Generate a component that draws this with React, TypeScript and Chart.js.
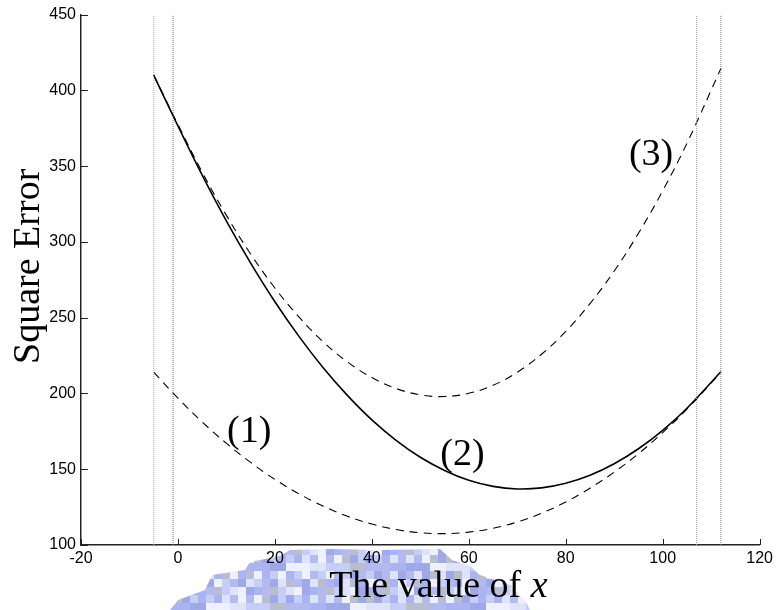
import React, { useEffect, useRef } from "react";
import { Chart, registerables } from "chart.js";

Chart.register(...registerables);

// ---- data ----
const xTicks = [-20, 0, 20, 40, 60, 80, 100, 120];
const yTicks = [100, 150, 200, 250, 300, 350, 400, 450];

const xs = [-5, 0, 5, 10, 15, 20, 25, 30, 35, 40, 45, 50, 55, 60, 65, 70, 75, 80, 85, 90, 95, 100, 105, 112];

// (1) lower dashed curve
const curve1 = [214, 196.9, 181.2, 167.1, 154.5, 143.3, 133.7, 125.6, 118.9, 113.8, 110.2, 108.1, 107.5, 108.5, 111, 115.2, 121, 128.4, 137.5, 148.1, 160.3, 174.2, 189.6, 214];
// (2) solid curve
const curve2 = [410, 376.5, 344, 313.7, 286, 260.5, 237.5, 216.8, 198.6, 182.6, 169.1, 157.9, 149.2, 142.7, 138.7, 137, 137.7, 140.7, 146, 153.6, 163.5, 175.7, 190.2, 214.3];
// (3) upper dashed curve
const curve3 = [410, 377.5, 346, 317.5, 292, 269.6, 250.3, 233.9, 220.7, 210.5, 203.3, 199.1, 198, 200.1, 205.4, 214, 225.9, 240.9, 259.3, 280.8, 305.7, 333.8, 365.1, 414.4];

// vertical dotted guide lines
const guideXs = [-5, -1, 107, 112];

// curve annotations
const curveLabels = ["(1)", "(2)", "(3)"];
const labelXs = [14.7, 58.7, 97.6];
const labelYs = [168, 153, 350.7];

const xTitleMain = "The value of ";
const xTitleVar = "x";
const yTitle = "Square Error";

const X_MIN = -20, X_MAX = 120, Y_MIN = 100, Y_MAX = 450;

const SERIF = '"Liberation Serif", "Times New Roman", serif';
const SANS = '"Liberation Sans", Arial, sans-serif';

// decorative pixelated blob under the x title (offsets from chart-area bottom-left)
const blobShape: [number, number][] = [
  [89, 65], [97, 55], [124, 45], [131, 30], [164, 25], [169, 17], [199, 11], [209, 5],
  [249, 4], [299, 5], [359, 4], [371, 15], [389, 21], [399, 30], [429, 40], [444, 55], [449, 65],
];
const blobPalette = ["#aab4f2", "#c6cdf7", "#a0a9e8", "#b8bdd0", "#eef0fc", "#b3bbee", "#dfe3fa"];

const decor = {
  id: "decor",
  beforeDraw(chart: any) {
    const { ctx, chartArea: ca } = chart;
    ctx.save();
    ctx.beginPath();
    blobShape.forEach(([dx, dy], i) => {
      const px = ca.left + dx, py = ca.bottom + dy;
      if (i === 0) ctx.moveTo(px, py); else ctx.lineTo(px, py);
    });
    ctx.closePath();
    ctx.clip();
    const bs = 8;
    for (let i = 0; i < 64; i++) {
      for (let j = 0; j < 10; j++) {
        const c = blobPalette[(i * 5 + j * 3 + ((i * j) % 5)) % blobPalette.length];
        ctx.fillStyle = c;
        ctx.fillRect(ca.left + 85 + i * bs, ca.bottom + 2 + j * bs, bs, bs);
      }
    }
    ctx.restore();
  },
  afterDraw(chart: any) {
    const { ctx, chartArea: ca, scales } = chart;
    const sx = scales.x, sy = scales.y;
    ctx.save();

    // inward ticks
    ctx.strokeStyle = "#222";
    ctx.lineWidth = 1;
    ctx.beginPath();
    sx.ticks.forEach((t: any) => {
      const px = Math.round(sx.getPixelForValue(t.value)) + 0.5;
      ctx.moveTo(px, ca.bottom);
      ctx.lineTo(px, ca.bottom - 6);
    });
    sy.ticks.forEach((t: any) => {
      const py = Math.round(sy.getPixelForValue(t.value)) + 0.5;
      ctx.moveTo(ca.left, py);
      ctx.lineTo(ca.left + 7, py);
    });
    ctx.stroke();

    // curve labels
    ctx.fillStyle = "#000";
    ctx.font = `38px ${SERIF}`;
    ctx.textAlign = "center";
    ctx.textBaseline = "alphabetic";
    curveLabels.forEach((lab, i) => {
      ctx.fillText(lab, sx.getPixelForValue(labelXs[i]), sy.getPixelForValue(labelYs[i]));
    });

    // y title
    ctx.save();
    ctx.translate(ca.left - 42.5, (ca.top + ca.bottom) / 2 - 13.5);
    ctx.rotate(-Math.PI / 2);
    ctx.textAlign = "center";
    ctx.fillText(yTitle, 0, 0);
    ctx.restore();

    // x title with italic variable
    ctx.textAlign = "left";
    ctx.font = `38px ${SERIF}`;
    const w1 = ctx.measureText(xTitleMain).width;
    ctx.font = `italic 38px ${SERIF}`;
    const w2 = ctx.measureText(xTitleVar).width;
    const cx = (ca.left + ca.right) / 2 + 18;
    const x0 = cx - (w1 + w2) / 2;
    const by = ca.bottom + 52;
    ctx.font = `38px ${SERIF}`;
    ctx.fillText(xTitleMain, x0, by);
    ctx.font = `italic 38px ${SERIF}`;
    ctx.fillText(xTitleVar, x0 + w1, by);

    ctx.restore();
  },
};

export default function App() {
  const ref = useRef<HTMLCanvasElement>(null);

  useEffect(() => {
    const canvas = ref.current;
    if (!canvas) return;

    const mk = (ys: number[], dash: number[], width: number) => ({
      data: xs.map((x, i) => ({ x, y: ys[i] })),
      borderColor: "#000",
      borderWidth: width,
      borderDash: dash,
      pointRadius: 0,
      tension: 0.4,
      fill: false,
    });

    const guideSets = guideXs.map((gx, i) => ({
      data: [{ x: gx, y: Y_MIN }, { x: gx, y: Y_MAX }],
      borderColor: i % 2 === 0 ? "#aaaaaa" : "#777777",
      borderWidth: 1,
      borderDash: [1, 1],
      pointRadius: 0,
      fill: false,
    }));

    const tickFont = { family: SANS, size: 16 };

    const chart = new Chart(canvas, {
      type: "line",
      data: {
        datasets: [
          ...guideSets,
          mk(curve1, [8, 6], 1.1),
          mk(curve2, [], 1.6),
          mk(curve3, [8, 6], 1.1),
        ] as any,
      },
      options: {
        animation: false,
        responsive: true,
        maintainAspectRatio: false,
        events: [],
        layout: { padding: { left: 0, right: 16, top: 7, bottom: 0 } },
        plugins: { legend: { display: false }, tooltip: { enabled: false } },
        scales: {
          x: {
            type: "linear",
            min: X_MIN,
            max: X_MAX,
            afterBuildTicks: (s: any) => {
              s.ticks = xTicks.map((v) => ({ value: v }));
            },
            afterFit: (s: any) => {
              s.height = 65;
            },
            grid: { drawOnChartArea: false, drawTicks: false },
            border: { display: true, color: "#222", width: 1.5 },
            ticks: { font: tickFont, color: "#000", padding: 4, maxRotation: 0, autoSkip: false },
          },
          y: {
            type: "linear",
            min: Y_MIN,
            max: Y_MAX,
            afterBuildTicks: (s: any) => {
              s.ticks = yTicks.map((v) => ({ value: v }));
            },
            afterFit: (s: any) => {
              s.width = 81;
            },
            grid: { drawOnChartArea: false, drawTicks: false },
            border: { display: true, color: "#222", width: 1.5 },
            ticks: { font: tickFont, color: "#000", padding: 5, autoSkip: false },
          },
        },
      } as any,
      plugins: [decor],
    });

    return () => chart.destroy();
  }, []);

  return (
    <div style={{ position: "absolute", left: 0, top: 0, width: 777, height: 610, background: "#fff" }}>
      <canvas ref={ref} />
    </div>
  );
}
